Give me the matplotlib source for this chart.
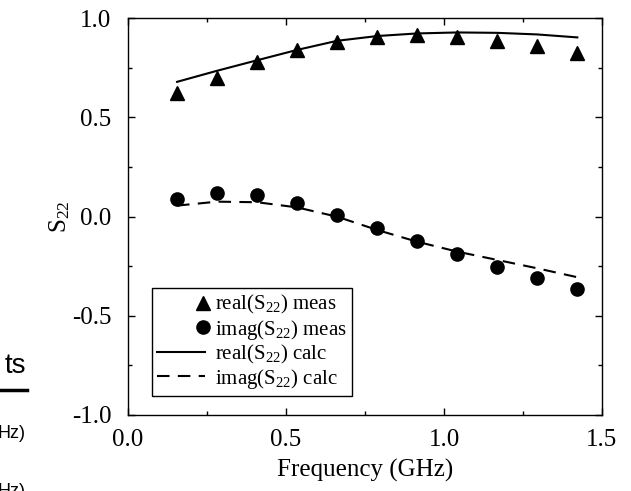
import numpy as np
import matplotlib
matplotlib.use("Agg")
import matplotlib.pyplot as plt
from matplotlib.legend_handler import HandlerLine2D
from matplotlib.ticker import MultipleLocator, FormatStrFormatter

# measured / calculated S22 vs frequency
freq = [0.155, 0.282, 0.409, 0.535, 0.662, 0.789, 0.915, 1.042, 1.169, 1.295, 1.422]
real_meas = [0.624, 0.700, 0.777, 0.839, 0.881, 0.906, 0.914, 0.906, 0.886, 0.861, 0.822]
imag_meas = [0.088, 0.120, 0.108, 0.066, 0.006, -0.056, -0.122, -0.189, -0.253, -0.311, -0.364]
real_calc = [0.679, 0.735, 0.788, 0.840, 0.886, 0.910, 0.923, 0.928, 0.926, 0.918, 0.903]
imag_calc = [0.055, 0.075, 0.072, 0.046, -0.001, -0.068, -0.127, -0.177, -0.219, -0.261, -0.306]


class RightMarker(HandlerLine2D):
    # single marker at the right end of the handle, next to the text
    def get_xdata(self, legend, xdescent, ydescent, width, height, fontsize):
        xd = np.array([width - xdescent - 0.1 * fontsize])
        return xd, xd


plt.rcParams['font.family'] = ['Liberation Serif', 'DejaVu Serif']
plt.rcParams['mathtext.fontset'] = 'custom'
plt.rcParams['mathtext.rm'] = 'Liberation Serif'
plt.rcParams['mathtext.it'] = 'Liberation Serif'

fig = plt.figure(figsize=(6.31, 4.91), dpi=100)
ax = fig.add_axes([0.203, 0.155, 0.751, 0.808])

h1, = ax.plot(freq, real_meas, '^', color='black', markersize=9.5, label=r'real(S$_{22}$) meas')
h2, = ax.plot(freq, imag_meas, 'o', color='black', markersize=9.5, label=r'imag(S$_{22}$) meas')
h3, = ax.plot(freq, real_calc, '-', color='black', lw=1.5, label=r'real(S$_{22}$) calc')
h4, = ax.plot(freq, imag_calc, '--', color='black', lw=1.5, dashes=(6, 4), label=r'imag(S$_{22}$) calc')

ax.set_xlim(0, 1.5)
ax.set_ylim(-1.0, 1.0)
ax.xaxis.set_major_locator(MultipleLocator(0.5))
ax.xaxis.set_minor_locator(MultipleLocator(0.25))
ax.yaxis.set_major_locator(MultipleLocator(0.5))
ax.yaxis.set_minor_locator(MultipleLocator(0.25))
ax.xaxis.set_major_formatter(FormatStrFormatter('%.1f'))
ax.yaxis.set_major_formatter(FormatStrFormatter('%.1f'))
ax.tick_params(which='both', direction='in', top=True, right=True, labelsize=18)
ax.tick_params(which='major', length=5, width=1)
ax.tick_params(which='minor', length=3, width=1)
ax.tick_params(axis='y', pad=12)
ax.tick_params(axis='x', pad=10)
for s in ax.spines.values():
    s.set_linewidth(1)

ax.set_xlabel('Frequency (GHz)', fontsize=18, labelpad=6)
ax.set_ylabel(r'S$_{22}$', fontsize=18, labelpad=0)

leg = ax.legend(handles=[h1, h2, h3, h4], loc='lower left', bbox_to_anchor=(0.05, 0.048),
                borderaxespad=0, fontsize=15, numpoints=1, fancybox=False,
                edgecolor='black', framealpha=1, handlelength=2.3, handletextpad=0.5,
                labelspacing=0.05, borderpad=0.25,
                handler_map={h1: RightMarker(numpoints=2), h2: RightMarker(numpoints=2)})
leg.get_frame().set_linewidth(1)

# fragments of the slide behind the figure
fig.text(0.042, 0.228, 'ts', fontsize=20, family='Liberation Sans', ha='right', va='bottom')
fig.add_artist(plt.Line2D([0, 0.043], [0.206, 0.206], color='black', lw=2.5))
fig.text(0.040, 0.118, 'Hz)', fontsize=13, family='Liberation Sans', ha='right', va='center')
fig.text(0.040, 0.0, 'Hz)', fontsize=13, family='Liberation Sans', ha='right', va='center')

fig.savefig('out.png', dpi=100)
